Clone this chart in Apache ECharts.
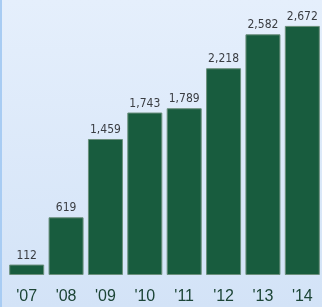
<!DOCTYPE html>
<html>
<head>
<meta charset="utf-8">
<script src="https://cdn.jsdelivr.net/npm/echarts@6/dist/echarts.min.js"></script>
<style>
  html, body { margin: 0; padding: 0; }
  #chart {
    width: 322px; height: 307px;
    background: linear-gradient(to bottom, #e5effc, #d3e3f7);
    box-sizing: border-box;
    border-left: 2px solid #a8ccf3;
  }
</style>
</head>
<body>
<div id="chart"></div>
<script>
var years = ["'07", "'08", "'09", "'10", "'11", "'12", "'13", "'14"];
var counts = [112, 619, 1459, 1743, 1789, 2218, 2582, 2672];

var myChart = echarts.init(document.getElementById('chart'));
var option = {
    animation: false,
    grid: { left: 5, right: -5, top: 0, bottom: 32 },
    xAxis: {
        type: 'category',
        data: years,
        axisLine: { show: false },
        axisTick: { show: false },
        axisLabel: {
            margin: 14,
            color: '#1c4536',
            fontSize: 16,
            fontFamily: 'Liberation Sans, Arial, sans-serif'
        }
    },
    yAxis: {
        type: 'value',
        min: 0,
        max: 2950,
        show: false,
        splitLine: { show: false }
    },
    series: [{
        type: 'bar',
        data: counts,
        barWidth: 35,
        itemStyle: {
            color: '#185c3e',
            borderColor: '#6b8f7c',
            borderWidth: 1
        },
        label: {
            show: true,
            position: 'top',
            distance: 3,
            color: '#3a3d42',
            fontSize: 12,
            fontFamily: 'DejaVu Sans Condensed, sans-serif',
            formatter: function (p) { return p.value.toLocaleString('en-US'); }
        }
    }]
};
myChart.setOption(option);
</script>
</body>
</html>
